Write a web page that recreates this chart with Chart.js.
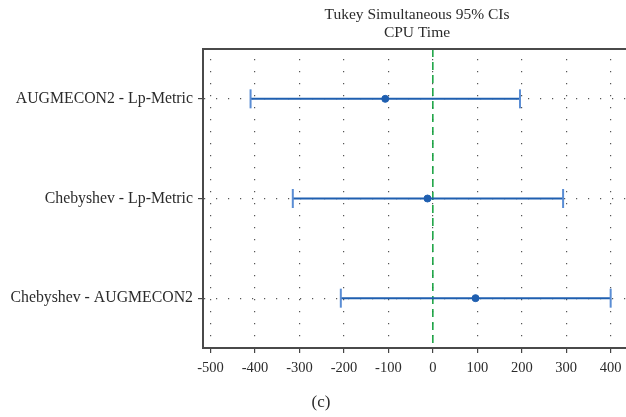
<!DOCTYPE html>
<html>
<head>
<meta charset="utf-8">
<script src="https://cdn.jsdelivr.net/npm/chart.js@4.4.1/dist/chart.umd.min.js"></script>
<style>
    html, body { margin: 0; padding: 0; background: #fff; }
    canvas { display: block; }
</style>
</head>
<body>
<canvas id="ciChart" width="626" height="417"></canvas>
<script>
// Tukey intervals
const comparisons = ["AUGMECON2 - Lp-Metric", "Chebyshev - Lp-Metric", "Chebyshev - AUGMECON2"];
const lowerBounds = [-410, -315, -207];
const centers = [-107, -12, 96];
const upperBounds = [196, 293, 400];
const xTicks = [-500, -400, -300, -200, -100, 0, 100, 200, 300, 400];
const titleLines = ["Tukey Simultaneous 95% CIs", "CPU Time"];
const caption = "(c)";

const serif = "'Liberation Serif', 'DejaVu Serif', serif";
const barColor = "#1f5fb0";
const capColor = "#5a8dd4";
const zeroColor = "#12a03c";

// frame top line + titles + caption
const frameAndText = {
    id: "frameAndText",
    afterDraw(chart) {
        const { ctx, chartArea } = chart;
        ctx.save();
        ctx.strokeStyle = "#4a4a4a";
        ctx.lineWidth = 2;
        ctx.beginPath();
        ctx.moveTo(chartArea.left - 1, chartArea.top);
        ctx.lineTo(chart.width, chartArea.top);
        ctx.stroke();

        ctx.fillStyle = "#2b2b2b";
        ctx.textAlign = "center";
        ctx.textBaseline = "alphabetic";
        ctx.font = "15.5px " + serif;
        ctx.fillText(titleLines[0], 417, 19);
        ctx.fillText(titleLines[1], 417, 37);

        ctx.font = "17px " + serif;
        ctx.fillText(caption, 321, 407);
        ctx.restore();
    }
};

const datasets = [];
comparisons.forEach((name, i) => {
    datasets.push({
        label: name,
        data: [{ x: lowerBounds[i], y: i + 1 }, { x: upperBounds[i], y: i + 1 }],
        showLine: true,
        borderColor: barColor,
        borderWidth: 2,
        pointStyle: "line",
        rotation: 90,
        pointRadius: 9.5,
        pointBorderColor: capColor,
        pointBorderWidth: 2,
        order: 2
    });
});
datasets.push({
    label: "center",
    data: centers.map((c, i) => ({ x: c, y: i + 1 })),
    pointRadius: 3.5,
    pointBackgroundColor: barColor,
    pointBorderColor: barColor,
    order: 1
});
datasets.push({
    label: "zero",
    data: [{ x: 0, y: 0.5 }, { x: 0, y: 3.5 }],
    showLine: true,
    borderColor: zeroColor,
    borderWidth: 1.5,
    borderDash: [8, 5],
    pointRadius: 0,
    order: 3
});

new Chart(document.getElementById("ciChart"), {
    type: "scatter",
    data: { datasets },
    options: {
        responsive: false,
        animation: false,
        devicePixelRatio: 1,
        layout: { autoPadding: false, padding: { top: 49, right: 0, bottom: 0, left: 0 } },
        plugins: {
            legend: { display: false },
            tooltip: { enabled: false }
        },
        scales: {
            x: {
                type: "linear",
                min: -517,
                max: 434.5,
                afterBuildTicks: scale => { scale.ticks = xTicks.map(v => ({ value: v })); },
                afterFit: scale => {
                    scale.height = 69;
                    scale.paddingLeft = 0;
                    scale.paddingRight = 0;
                },
                ticks: {
                    autoSkip: false,
                    maxRotation: 0,
                    padding: 6,
                    color: "#2b2b2b",
                    font: { family: serif, size: 14.5 },
                    callback: v => String(v)
                },
                grid: {
                    color: "#555",
                    lineWidth: 1.2,
                    tickLength: 5,
                    tickColor: "#444",
                    tickWidth: 1.2,
                    tickBorderDash: []
                },
                border: { display: true, color: "#4a4a4a", width: 2, dash: [1.2, 10.8], dashOffset: 2 }
            },
            y: {
                type: "linear",
                reverse: true,
                min: 0.5,
                max: 3.5,
                afterBuildTicks: scale => { scale.ticks = comparisons.map((c, i) => ({ value: i + 1 })); },
                afterFit: scale => { scale.width = 203; },
                ticks: {
                    autoSkip: false,
                    padding: 5,
                    color: "#2b2b2b",
                    font: { family: serif, size: 15.8 },
                    callback: v => comparisons[v - 1]
                },
                grid: {
                    color: "#555",
                    lineWidth: 1.2,
                    tickLength: 5,
                    tickColor: "#444",
                    tickWidth: 1.2,
                    tickBorderDash: []
                },
                border: { display: true, color: "#4a4a4a", width: 2, dash: [1.2, 10.8], dashOffset: 0 }
            }
        }
    },
    plugins: [frameAndText]
});
</script>
</body>
</html>
